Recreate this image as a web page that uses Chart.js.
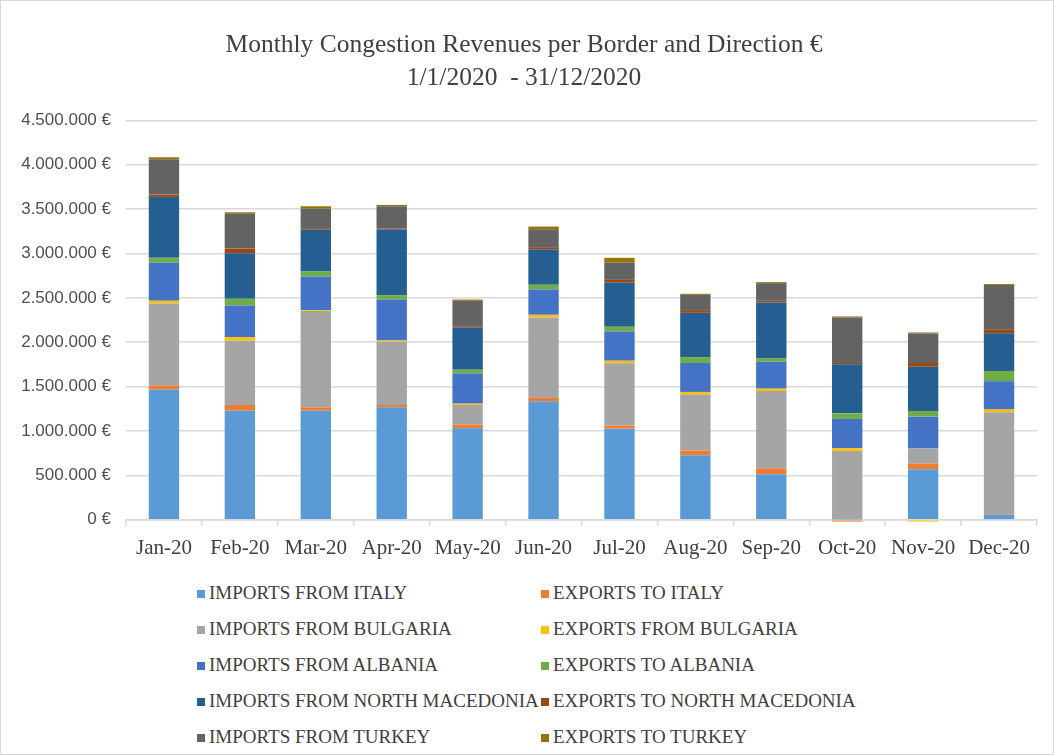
<!DOCTYPE html>
<html lang="en">
<head>
    <meta charset="UTF-8">
    <title>Monthly Congestion Revenues</title>
    <script src="https://cdn.jsdelivr.net/npm/chart.js"></script>
    <style>
        html, body { margin: 0; padding: 0; background: #fff; }
        .frame {
            position: relative;
            width: 1052px;
            height: 753px;
            border: 1px solid #d9d9d9;
            font-family: 'Liberation Serif', 'Times New Roman', serif;
        }
        .chart-box { position: absolute; left: 0; top: 0; width: 1052px; height: 570px; }
        .legend { position: absolute; left: 0; top: 0; }
        .legend-item {
            position: absolute;
            height: 20px;
            line-height: 20px;
            font-size: 19px;
            color: #404040;
            white-space: nowrap;
        }
        .legend-item span {
            display: inline-block;
            width: 8px;
            height: 8px;
            margin-right: 4px;
            vertical-align: 1px;
        }
    </style>
</head>
<body>
    <div class="frame">
        <div class="chart-box"><canvas id="revChart"></canvas></div>
        <div class="legend" id="legend"></div>
    </div>
    <script>
        // months on the x axis
        const months = ['Jan-20', 'Feb-20', 'Mar-20', 'Apr-20', 'May-20', 'Jun-20',
                        'Jul-20', 'Aug-20', 'Sep-20', 'Oct-20', 'Nov-20', 'Dec-20'];

        // revenues in euro
        const importsItaly     = [1469000, 1229000, 1229000, 1267000, 1030000, 1334000, 1027000, 727000, 513000, 5000, 569000, 56000];
        const exportsItaly     = [45000, 64000, 38000, 26000, 42000, 42000, 34000, 53000, 67000, -20000, 64000, 5000];
        const importsBulgaria  = [923000, 724000, 1084000, 713000, 222000, 903000, 701000, 630000, 871000, 771000, 169000, 1151000];
        const exportsBulgaria  = [30000, 41000, 11000, 14000, 14000, 30000, 30000, 30000, 26000, 30000, -20000, 30000];
        const importsAlbania   = [431000, 356000, 379000, 461000, 341000, 285000, 330000, 326000, 304000, 330000, 360000, 319000];
        const exportsAlbania   = [53000, 75000, 56000, 50000, 42000, 53000, 52000, 63000, 41000, 63000, 64000, 116000];
        const importsMacedonia = [686000, 514000, 472000, 738000, 472000, 401000, 499000, 503000, 626000, 552000, 498000, 424000];
        const exportsMacedonia = [26000, 52000, 16000, 11000, 11000, 23000, 30000, 30000, 19000, 15000, 42000, 41000];
        const importsTurkey    = [398000, 394000, 220000, 252000, 293000, 202000, 195000, 172000, 199000, 513000, 333000, 502000];
        const exportsTurkey    = [22000, 15000, 27000, 15000, 14000, 30000, 53000, 12000, 11000, 12000, 11000, 11000];

        const yTicks = [0, 500000, 1000000, 1500000, 2000000, 2500000, 3000000, 3500000, 4000000, 4500000];

        const series = [
            { label: 'IMPORTS FROM ITALY', data: importsItaly, color: '#5b9bd5' },
            { label: 'EXPORTS TO ITALY', data: exportsItaly, color: '#ed7d31' },
            { label: 'IMPORTS FROM BULGARIA', data: importsBulgaria, color: '#a5a5a5' },
            { label: 'EXPORTS FROM BULGARIA', data: exportsBulgaria, color: '#ffc000' },
            { label: 'IMPORTS FROM ALBANIA', data: importsAlbania, color: '#4472c4' },
            { label: 'EXPORTS TO ALBANIA', data: exportsAlbania, color: '#70ad47' },
            { label: 'IMPORTS FROM NORTH MACEDONIA', data: importsMacedonia, color: '#255e91' },
            { label: 'EXPORTS TO NORTH MACEDONIA', data: exportsMacedonia, color: '#9e480e' },
            { label: 'IMPORTS FROM TURKEY', data: importsTurkey, color: '#636363' },
            { label: 'EXPORTS TO TURKEY', data: exportsTurkey, color: '#997300' }
        ];

        function euro(v) {
            return String(v).replace(/\B(?=(\d{3})+(?!\d))/g, '.') + ' €';
        }

        const serif = "'Liberation Serif', 'Times New Roman', serif";
        const sans = "'Liberation Sans', Arial, sans-serif";
        const textColor = '#404040';
        const gridColor = '#d9d9d9';

        const ctx = document.getElementById('revChart').getContext('2d');
        const revChart = new Chart(ctx, {
            type: 'bar',
            data: {
                labels: months,
                datasets: series.map(s => ({
                    label: s.label,
                    data: s.data,
                    backgroundColor: s.color,
                    borderWidth: 0,
                    clip: false, // small negative values hang below the axis
                    categoryPercentage: 1.0,
                    barPercentage: 0.4
                }))
            },
            options: {
                responsive: true,
                maintainAspectRatio: false,
                animation: false,
                layout: { padding: { left: 10, right: 16, top: 0, bottom: 0 } },
                plugins: {
                    legend: { display: false },
                    tooltip: { enabled: false },
                    title: {
                        display: true,
                        text: ['Monthly Congestion Revenues per Border and Direction €', '1/1/2020  - 31/12/2020'],
                        color: textColor,
                        font: { family: serif, size: 25.5, weight: 'normal', lineHeight: 1.3 },
                        padding: { top: 28, bottom: 25 }
                    }
                },
                scales: {
                    x: {
                        stacked: true,
                        grid: {
                            offset: true,
                            drawOnChartArea: false,
                            color: gridColor,
                            lineWidth: 1.5,
                            tickLength: 6
                        },
                        border: { color: gridColor, width: 1.5 },
                        ticks: {
                            color: textColor,
                            font: { family: serif, size: 21 },
                            padding: 10,
                            maxRotation: 0
                        }
                    },
                    y: {
                        stacked: true,
                        min: 0,
                        max: 4500000,
                        afterBuildTicks: axis => { axis.ticks = yTicks.map(v => ({ value: v })); },
                        afterFit: axis => { axis.width = 115; },
                        grid: { color: gridColor, lineWidth: 1.5, drawTicks: false },
                        border: { display: false },
                        ticks: {
                            color: '#505050',
                            font: { family: sans, size: 17 },
                            padding: 15,
                            callback: v => euro(v)
                        }
                    }
                }
            }
        });

        // two-column legend under the chart, in dataset order
        const legend = document.getElementById('legend');
        series.forEach((s, i) => {
            const item = document.createElement('div');
            item.className = 'legend-item';
            item.style.left = (i % 2 === 0 ? 196 : 540) + 'px';
            item.style.top = (582 + Math.floor(i / 2) * 36) + 'px';
            item.innerHTML = '<span style="background:' + s.color + '"></span>' + s.label;
            legend.appendChild(item);
        });
    </script>
</body>
</html>
